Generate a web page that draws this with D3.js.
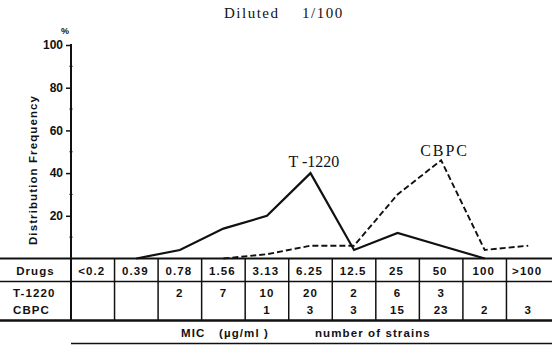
<!DOCTYPE html>
<html>
<head>
<meta charset="utf-8">
<script src="https://cdn.jsdelivr.net/npm/d3@7"></script>
<style>
  html, body { margin: 0; padding: 0; background: #fff; }
  svg { display: block; }
  .tbl { font-family: "Liberation Sans", Arial, sans-serif; font-weight: bold; font-size: 11.5px; letter-spacing: 1.1px; fill: #111; }
  .serif { font-family: "Liberation Serif", "Times New Roman", serif; fill: #111; }
</style>
</head>
<body>
<div id="chart"></div>
<script>
// MIC columns (µg/ml)
const categories = ["<0.2", "0.39", "0.78", "1.56", "3.13", "6.25", "12.5", "25", "50", "100", ">100"];
// number of strains per column (null = empty cell)
const t1220Counts = [null, null, 2, 7, 10, 20, 2, 6, 3, null, null];
const cbpcCounts = [null, null, null, null, 1, 3, 3, 15, 23, 2, 3];
// distribution frequency (%) as drawn in the plot
const t1220Pct = [null, 0, 4, 14, 20, 40, 4, 12, 6, 0, null];
const cbpcPct = [null, null, null, 0, 2, 6, 6, 30, 46, 4, 6];
const yTicks = [20, 40, 60, 80, 100];
const yMinorTicks = [10, 30, 50, 70, 90];

document.addEventListener("DOMContentLoaded", function () {
    const width = 557;
    const height = 347;

    const svg = d3.select("#chart").append("svg")
        .attr("width", width)
        .attr("height", height);

    const x = d3.scaleBand().domain(categories).range([71, 550]);
    const y = d3.scaleLinear().domain([0, 100]).range([258.5, 45]);
    const cx = c => x(c) + x.bandwidth() / 2;

    // filas de la tabla
    const rowTop = y(0);
    const rowHeader = 281.5;
    const rowBottom = 320.5;
    const micLine = 343.5;

    // title
    svg.append("text").attr("class", "serif")
        .attr("x", 224).attr("y", 18)
        .attr("font-size", 15).attr("letter-spacing", 1.5)
        .text("Diluted");
    svg.append("text").attr("class", "serif")
        .attr("x", 302).attr("y", 18)
        .attr("font-size", 15).attr("letter-spacing", 1.5)
        .text("1/100");

    // eje Y
    const yAxis = svg.append("g")
        .attr("transform", `translate(${x.range()[0]},0)`)
        .call(d3.axisLeft(y).tickValues(yTicks).tickSize(5).tickPadding(3));
    yAxis.select(".domain").remove();
    yAxis.selectAll("line").attr("stroke", "#111").attr("stroke-width", 1.5);
    yAxis.selectAll("text")
        .attr("font-family", "Liberation Sans, Arial, sans-serif")
        .attr("font-weight", "bold").attr("font-size", 12).attr("fill", "#111");

    svg.append("g").selectAll("line")
        .data(yMinorTicks).enter().append("line")
        .attr("x1", x.range()[0] - 1.5).attr("x2", x.range()[0] + 1.5)
        .attr("y1", d => y(d)).attr("y2", d => y(d))
        .attr("stroke", "#111").attr("stroke-width", 1.2);

    svg.append("line")
        .attr("x1", x.range()[0]).attr("x2", x.range()[0])
        .attr("y1", y(100) - 1).attr("y2", rowBottom)
        .attr("stroke", "#111").attr("stroke-width", 2);

    svg.append("text")
        .attr("x", 65).attr("y", 34).attr("text-anchor", "middle")
        .attr("font-family", "Liberation Sans, Arial, sans-serif")
        .attr("font-weight", "bold").attr("font-size", 9).attr("fill", "#111")
        .text("%");

    svg.append("text").attr("class", "tbl")
        .attr("transform", `translate(37,170) rotate(-90)`)
        .attr("text-anchor", "middle")
        .text("Distribution Frequency");

    // líneas de la tabla
    const hLines = [
        { y: rowTop, x1: 0, w: 2 },
        { y: rowHeader, x1: 0, w: 1.5 },
        { y: rowBottom, x1: 0, w: 2.5 },
        { y: micLine, x1: x.range()[0], w: 1.5 }
    ];
    svg.append("g").selectAll("line")
        .data(hLines).enter().append("line")
        .attr("x1", d => d.x1).attr("x2", x.range()[1] + 2)
        .attr("y1", d => d.y).attr("y2", d => d.y)
        .attr("stroke", "#111").attr("stroke-width", d => d.w);

    svg.append("g").selectAll("line")
        .data(categories.slice(1)).enter().append("line")
        .attr("x1", d => x(d)).attr("x2", d => x(d))
        .attr("y1", rowTop).attr("y2", rowBottom)
        .attr("stroke", "#111").attr("stroke-width", 1.5);

    // encabezados y valores
    svg.append("text").attr("class", "tbl")
        .attr("x", 35.5).attr("y", 275).attr("text-anchor", "middle")
        .text("Drugs");
    svg.append("g").selectAll("text")
        .data(categories).enter().append("text").attr("class", "tbl")
        .attr("x", d => cx(d) - 1).attr("y", 275).attr("text-anchor", "middle")
        .text(d => d);

    const rows = [
        { name: "T-1220", counts: t1220Counts, y: 296.5 },
        { name: "CBPC", counts: cbpcCounts, y: 313.5 }
    ];
    rows.forEach(r => {
        svg.append("text").attr("class", "tbl")
            .attr("x", 13).attr("y", r.y).text(r.name);
        svg.append("g").selectAll("text")
            .data(r.counts.map((v, i) => ({ c: categories[i], v }))
                .filter(d => d.v != null))
            .enter().append("text").attr("class", "tbl")
            .attr("x", d => cx(d.c)).attr("y", r.y).attr("text-anchor", "middle")
            .text(d => d.v);
    });

    // pie de tabla
    [["MIC", 181], ["(\u00b5g/ml )", 219], ["number of strains", 315]].forEach(([t, px]) => {
        svg.append("text").attr("class", "tbl")
            .attr("x", px).attr("y", 336.5).text(t);
    });

    // curvas
    const line = d3.line()
        .defined(d => d.v != null)
        .x(d => cx(d.c))
        .y(d => y(d.v));
    const toPts = arr => arr.map((v, i) => ({ c: categories[i], v }));

    svg.append("path")
        .datum(toPts(t1220Pct))
        .attr("d", line)
        .attr("fill", "none").attr("stroke", "#111")
        .attr("stroke-width", 2.2).attr("stroke-linejoin", "miter");

    svg.append("path")
        .datum(toPts(cbpcPct))
        .attr("d", line)
        .attr("fill", "none").attr("stroke", "#111")
        .attr("stroke-width", 1.9).attr("stroke-dasharray", "6,3");

    // etiquetas de las series
    svg.append("text").attr("class", "serif")
        .attr("x", cx("6.25") - 22).attr("y", y(40) - 6)
        .attr("font-size", 16)
        .text("T -1220");
    svg.append("text").attr("class", "serif")
        .attr("x", cx("50") - 21).attr("y", y(46) - 4)
        .attr("font-size", 16).attr("letter-spacing", 2)
        .text("CBPC");
});
</script>
</body>
</html>
